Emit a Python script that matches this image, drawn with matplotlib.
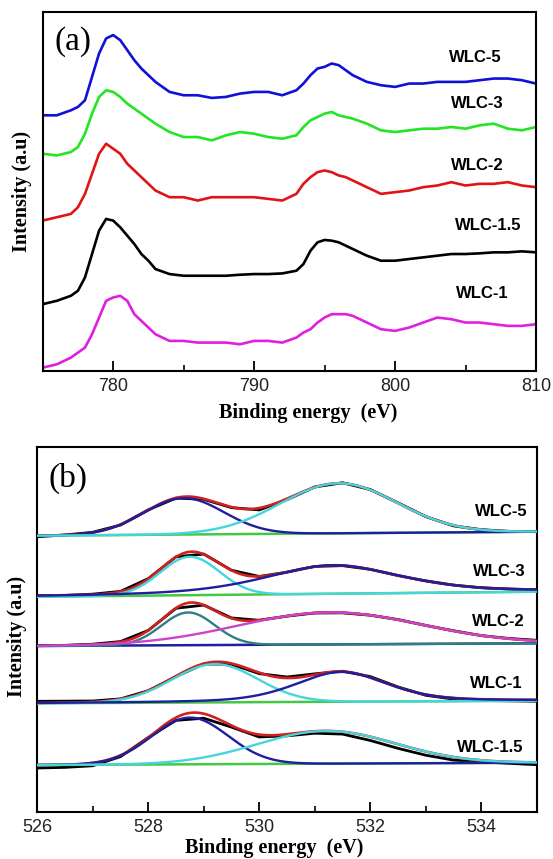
import numpy as np
import matplotlib
matplotlib.use("Agg")
import matplotlib.pyplot as plt

# ---------------- Panel (a) data ----------------
energy_a = [775, 776, 777, 777.5, 778, 778.5, 779, 779.5, 780, 780.5, 781, 781.5,
            782, 782.5, 783, 784, 785, 786, 787, 788, 789, 790, 791, 792, 793,
            793.5, 794, 794.5, 795, 795.5, 796, 796.5, 797, 798, 799, 800, 801,
            802, 803, 804, 805, 806, 807, 808, 809, 810]
wlc5_a = [765, 765, 780, 790, 810, 880, 950, 995, 1005, 990, 960, 930, 905, 885, 865,
          835, 825, 825, 817, 820, 830, 835, 835, 825, 840, 860, 885, 905, 910, 920,
          915, 900, 885, 865, 855, 850, 860, 860, 865, 865, 865, 870, 875, 875, 870, 860]
wlc3_a = [650, 645, 655, 670, 710, 770, 820, 840, 835, 820, 800, 785, 770, 755, 740,
          715, 700, 700, 690, 705, 715, 710, 700, 695, 705, 730, 750, 760, 770, 775,
          765, 760, 755, 740, 720, 715, 720, 725, 725, 730, 725, 735, 740, 725, 720, 730]
wlc2_a = [450, 460, 470, 490, 530, 590, 650, 680, 665, 650, 620, 600, 580, 560, 540,
          520, 520, 510, 520, 520, 520, 520, 515, 510, 530, 560, 580, 595, 600, 595,
          585, 580, 570, 550, 530, 535, 540, 550, 555, 565, 555, 560, 560, 565, 555, 550]
wlc15_a = [200, 210, 225, 240, 280, 350, 420, 455, 450, 430, 405, 380, 350, 330, 305,
           290, 285, 285, 285, 285, 288, 290, 290, 292, 300, 320, 360, 385, 392, 390,
           385, 375, 365, 345, 330, 330, 335, 340, 345, 350, 350, 352, 355, 355, 358, 355]
wlc1_a = [10, 20, 40, 55, 70, 110, 160, 210, 220, 225, 210, 170, 150, 130, 110,
          90, 90, 85, 85, 85, 80, 90, 90, 85, 100, 115, 125, 145, 160, 170,
          170, 170, 165, 145, 125, 120, 130, 145, 160, 155, 145, 145, 140, 135, 135, 140]
series_a = [wlc5_a, wlc3_a, wlc2_a, wlc15_a, wlc1_a]
names_a = ["WLC-5", "WLC-3", "WLC-2", "WLC-1.5", "WLC-1"]
xticks_a = [780, 790, 800, 810]

# ---------------- Panel (b) data ----------------
names_b = ["WLC-5", "WLC-3", "WLC-2", "WLC-1", "WLC-1.5"]
energy_b = [526, 526.5, 527, 527.5, 528, 528.5, 529, 529.5, 530, 530.5, 531,
            531.5, 532, 532.5, 533, 533.5, 534, 534.5, 535]
# background level at 526 eV and 535 eV (stacked)
bg_left = [276.0, 215.0, 165.7, 108.4, 46.7]
bg_right = [280.0, 220.0, 168.4, 111.0, 49.0]
# measured data, above background
raw_b = [
    [-1, 0.5, 3, 10, 25, 36.5, 35, 26.5, 24, 34, 46.5, 50.5, 43.5, 30, 16, 6.5, 2.5, 0.5, 0],
    [1, 1, 2, 4.5, 17, 38.5, 41, 24.5, 18, 22, 27.5, 28, 24, 17.5, 12, 7.5, 4.5, 3, 2],
    [0.5, 0.5, 1.5, 4, 15, 37, 40, 27, 24.5, 28.5, 31.5, 31.5, 29, 24.5, 18.5, 13, 8, 5, 3],
    [2, 2, 2, 4, 12, 26, 38.5, 38, 28.5, 25, 28, 30.5, 25, 14.5, 6, 2, 0.5, 0, -0.5],
    [-3, -2.5, -1, 8, 27, 44, 46, 37, 27, 28, 30.5, 29.5, 23, 15, 8, 3, 1, -0.5, -2],
]
# fitted components: centre (eV), height, FWHM (eV), Lorentzian fraction
comp_center = [[528.64, 531.43], [528.75, 531.33], [528.72, 531.27], [529.20, 531.48], [528.75, 531.21]]
comp_height = [[36.4, 50.0], [38.4, 28.5], [32.7, 32.0], [38.3, 29.8], [46.7, 32.7]]
comp_fwhm = [[1.70, 2.47], [1.25, 2.90], [1.13, 3.88], [1.81, 1.95], [1.62, 2.94]]
comp_eta = [[0.0, 0.0], [0.0, 0.5], [0.0, 0.0], [0.0, 0.4], [0.0, 0.0]]
xticks_b = [526, 528, 530, 532, 534]

# ---------------- styles ----------------
W, H = 553, 859
colors_a = ["#1010d8", "#22e622", "#e01414", "#000000", "#e020e0"]
BLUE = "#1e1e9e"
CYAN = "#44d6dc"
TEAL = "#2f7f80"
MAG = "#cc44cc"
GREEN = "#44c844"
RED = "#d02020"
comp_colors = [[BLUE, CYAN], [CYAN, BLUE], [TEAL, MAG], [CYAN, BLUE], [BLUE, CYAN]]
bg_colors = [GREEN, GREEN, BLUE, GREEN, GREEN]
SERIF = "Liberation Serif"
SANS = "Liberation Sans"

fig = plt.figure(figsize=(W / 100, H / 100), dpi=100)

def px_axes(l, t, r, b):
    return fig.add_axes([l / W, 1 - b / H, (r - l) / W, (b - t) / H])

def style_axes(ax, major, minor):
    ax.set_xticks(major)
    ax.set_xticks(minor, minor=True)
    ax.set_yticks([])
    ax.tick_params(axis="x", which="major", direction="in", length=7, width=1.3,
                   labelsize=13, pad=5, labelcolor="#222222")
    ax.tick_params(axis="x", which="minor", direction="in", length=4.5, width=1.2)
    for lab in ax.get_xticklabels():
        lab.set_fontfamily(SANS)
    for s in ax.spines.values():
        s.set_linewidth(1.5)

# ---- panel (a)
axa = px_axes(42.7, 11.7, 536, 371)
for vals, c in zip(series_a, colors_a):
    axa.plot(energy_a, vals, color=c, lw=1.9, solid_joinstyle="round")
axa.set_xlim(775, 810)
axa.set_ylim(0, 1075)
style_axes(axa, xticks_a, [785, 795, 805])

lab_pos_a = [(475, 58), (477, 103), (477, 166), (488, 225), (482, 293)]
for n, (x, y) in zip(names_a, lab_pos_a):
    fig.text(x / W, 1 - y / H, n, ha="center", va="center", fontsize=12,
             fontweight="bold", family=SANS)
fig.text(72.5 / W, 1 - 42 / H, "(a)", ha="center", va="center", fontsize=24, family=SERIF)
fig.text(308 / W, 1 - 413 / H, "Binding energy  (eV)", ha="center", va="center",
         fontsize=14.5, fontweight="bold", family=SERIF)
fig.text(22.5 / W, 1 - 191.7 / H, "Intensity (a.u)", ha="center", va="center",
         rotation=90, fontsize=14.5, fontweight="bold", family=SERIF)

# ---- panel (b)
axb = px_axes(37.3, 446.5, 536.7, 811.7)
xf = np.linspace(526, 535, 901)

def pv(x, c, h, w, eta):
    g = np.exp(-4 * np.log(2) * (x - c) ** 2 / w ** 2)
    l = 1.0 / (1 + 4 * (x - c) ** 2 / w ** 2)
    return h * ((1 - eta) * g + eta * l)

for i in range(len(names_b)):
    bgf = np.interp(xf, [526, 535], [bg_left[i], bg_right[i]])
    bgd = np.interp(energy_b, [526, 535], [bg_left[i], bg_right[i]])
    comps = [pv(xf, comp_center[i][k], comp_height[i][k], comp_fwhm[i][k], comp_eta[i][k])
             for k in range(2)]
    env = bgf + comps[0] + comps[1]
    axb.plot(energy_b, bgd + np.array(raw_b[i]), color="black", lw=2.0, zorder=1,
             solid_joinstyle="round")
    axb.plot(xf, env, color=RED, lw=1.9, zorder=2)
    axb.plot(xf, bgf, color=bg_colors[i], lw=1.8, zorder=3)
    for k in range(2):
        axb.plot(xf, bgf + comps[k], color=comp_colors[i][k], lw=1.7, zorder=4)

axb.set_xlim(526, 535)
axb.set_ylim(0, 365.2)
style_axes(axb, xticks_b, [527, 529, 531, 533, 535])

lab_pos_b = [(501, 512), (499, 572), (498, 622), (496, 683), (490, 747)]
for n, (x, y) in zip(names_b, lab_pos_b):
    fig.text(x / W, 1 - y / H, n, ha="center", va="center", fontsize=12,
             fontweight="bold", family=SANS)
fig.text(68 / W, 1 - 478 / H, "(b)", ha="center", va="center", fontsize=24, family=SERIF)
fig.text(274 / W, 1 - 848 / H, "Binding energy  (eV)", ha="center", va="center",
         fontsize=14.5, fontweight="bold", family=SERIF)
fig.text(17.5 / W, 1 - 636.7 / H, "Intensity (a.u)", ha="center", va="center",
         rotation=90, fontsize=14.5, fontweight="bold", family=SERIF)

fig.savefig("out.png", dpi=100)
